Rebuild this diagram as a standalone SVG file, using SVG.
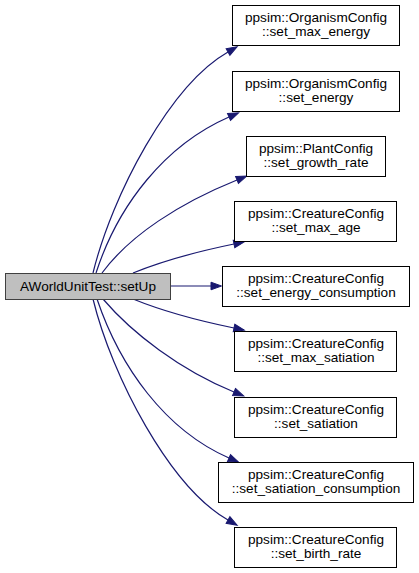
<svg xmlns="http://www.w3.org/2000/svg" width="419" height="573" viewBox="0 0 419 573">
<style>
.n rect{fill:#ffffff;stroke:#000000;stroke-width:1}
#main rect{fill:#bfbfbf;stroke:#404040}
text{font-family:"Liberation Sans",Arial,sans-serif;font-size:13.6px;fill:#000000;text-anchor:middle}
#edges path{fill:none;stroke:#191970;stroke-width:1.2;marker-end:url(#arr)}
</style>
<defs>
<marker id="arr" markerUnits="userSpaceOnUse" markerWidth="12" markerHeight="10" refX="0" refY="0" orient="auto" overflow="visible">
<path d="M0,-3.8 L10.5,0 L0,3.8 z" fill="#191970" stroke="#191970" stroke-width="1"/>
</marker>
</defs>
<rect width="419" height="573" fill="#ffffff"/>
<g id="edges">
<path d="M93,273 C112,195 170,85 228,52"/>
<path d="M96,273 C118,205 165,145 229,117"/>
<path d="M102,273 C130,235 180,203 237,180"/>
<path d="M133,273 C160,262 195,252 234,244"/>
<path d="M170,286 L211,286"/>
<path d="M133,299 C160,310 195,320 234,328"/>
<path d="M103,299 C132,333 180,370 234,392"/>
<path d="M97,299 C120,367 165,430 229,458"/>
<path d="M93,299 C112,377 170,487 228,520"/>
</g>
<g id="main" class="n"><rect x="5.5" y="273.5" width="165" height="26"/><text x="88" y="291">AWorldUnitTest::setUp</text></g>
<g id="n1" class="n"><rect x="232.5" y="5.5" width="167" height="40"/><text x="316" y="21.5">ppsim::OrganismConfig</text><text x="316" y="36">::set_max_energy</text></g>
<g id="n2" class="n"><rect x="232.5" y="71.5" width="167" height="40"/><text x="316" y="87.5">ppsim::OrganismConfig</text><text x="316" y="102">::set_energy</text></g>
<g id="n3" class="n"><rect x="246.5" y="136.5" width="139" height="40"/><text x="316" y="152.5">ppsim::PlantConfig</text><text x="316" y="167">::set_growth_rate</text></g>
<g id="n4" class="n"><rect x="234.5" y="201.5" width="162" height="40"/><text x="316" y="217.5">ppsim::CreatureConfig</text><text x="316" y="232">::set_max_age</text></g>
<g id="n5" class="n"><rect x="222.5" y="266.5" width="187" height="40"/><text x="316" y="282.5">ppsim::CreatureConfig</text><text x="316" y="297">::set_energy_consumption</text></g>
<g id="n6" class="n"><rect x="234.5" y="331.5" width="162" height="40"/><text x="316" y="347.5">ppsim::CreatureConfig</text><text x="316" y="362">::set_max_satiation</text></g>
<g id="n7" class="n"><rect x="234.5" y="397.5" width="162" height="40"/><text x="316" y="413.5">ppsim::CreatureConfig</text><text x="316" y="428">::set_satiation</text></g>
<g id="n8" class="n"><rect x="218.5" y="462.5" width="195" height="40"/><text x="316" y="478.5">ppsim::CreatureConfig</text><text x="316" y="493">::set_satiation_consumption</text></g>
<g id="n9" class="n"><rect x="234.5" y="527.5" width="162" height="40"/><text x="316" y="543.5">ppsim::CreatureConfig</text><text x="316" y="558">::set_birth_rate</text></g>
</svg>
